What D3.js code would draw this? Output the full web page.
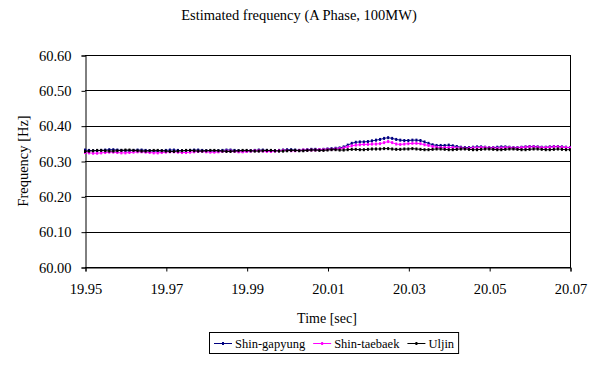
<!DOCTYPE html>
<html>
<head>
<meta charset="utf-8">
<script src="https://cdn.jsdelivr.net/npm/d3@7"></script>
<style>
  html, body { margin: 0; padding: 0; background: #fff; }
  svg { display: block; font-family: "Liberation Serif", "Times New Roman", serif; }
</style>
</head>
<body>
<svg id="chart" width="596" height="368"></svg>
<script>
// Sampling grid of the estimator output (1 ms steps)
const sampleStart = 19.95;
const sampleStep = 0.001;

const xTicks = [19.95, 19.97, 19.99, 20.01, 20.03, 20.05, 20.07];
const yTicks = [60.00, 60.10, 60.20, 60.30, 60.40, 60.50, 60.60];

const seriesNames = ["Shin-gapyung", "Shin-taebaek", "Uljin"];
const seriesColors = ["#000080", "#ff00ff", "#000000"];

const shinGapyung = [
  60.331, 60.330, 60.329, 60.329, 60.330, 60.331, 60.332, 60.332, 60.331, 60.330,
  60.329, 60.329, 60.330, 60.331, 60.331, 60.330, 60.329, 60.328, 60.328, 60.329,
  60.330, 60.331, 60.331, 60.330, 60.329, 60.329, 60.330, 60.331, 60.331, 60.330,
  60.329, 60.328, 60.328, 60.329, 60.330, 60.331, 60.331, 60.330, 60.329, 60.328,
  60.328, 60.329, 60.330, 60.331, 60.331, 60.330, 60.329, 60.329, 60.330, 60.331,
  60.332, 60.332, 60.331, 60.330, 60.331, 60.332, 60.333, 60.333, 60.332, 60.333,
  60.334, 60.335, 60.336, 60.337, 60.340, 60.345, 60.350, 60.353, 60.354, 60.354,
  60.355, 60.357, 60.359, 60.361, 60.364, 60.366, 60.364, 60.361, 60.359, 60.358,
  60.358, 60.359, 60.359, 60.358, 60.354, 60.350, 60.346, 60.344, 60.344, 60.344,
  60.345, 60.343, 60.341, 60.339, 60.338, 60.338, 60.339, 60.340, 60.340, 60.339,
  60.338, 60.338, 60.339, 60.340, 60.340, 60.339, 60.338, 60.338, 60.339, 60.340,
  60.341, 60.341, 60.340, 60.339, 60.339, 60.340, 60.341, 60.341, 60.340, 60.339,
  60.338
];

const shinTaebaek = [
  60.324, 60.323, 60.322, 60.322, 60.323, 60.324, 60.325, 60.325, 60.324, 60.323,
  60.323, 60.324, 60.325, 60.326, 60.326, 60.325, 60.324, 60.323, 60.323, 60.324,
  60.325, 60.326, 60.326, 60.325, 60.324, 60.324, 60.325, 60.326, 60.327, 60.327,
  60.326, 60.325, 60.325, 60.326, 60.327, 60.328, 60.328, 60.327, 60.326, 60.326,
  60.327, 60.328, 60.329, 60.329, 60.328, 60.327, 60.327, 60.328, 60.329, 60.330,
  60.330, 60.329, 60.329, 60.330, 60.331, 60.331, 60.331, 60.331, 60.332, 60.332,
  60.333, 60.333, 60.334, 60.335, 60.337, 60.340, 60.343, 60.345, 60.346, 60.347,
  60.347, 60.348, 60.348, 60.349, 60.352, 60.355, 60.352, 60.348, 60.347, 60.348,
  60.349, 60.350, 60.350, 60.349, 60.346, 60.344, 60.341, 60.339, 60.338, 60.338,
  60.338, 60.338, 60.337, 60.337, 60.336, 60.336, 60.337, 60.337, 60.338, 60.338,
  60.337, 60.337, 60.336, 60.337, 60.338, 60.338, 60.337, 60.337, 60.338, 60.339,
  60.340, 60.340, 60.339, 60.338, 60.338, 60.339, 60.340, 60.340, 60.339, 60.338,
  60.337
];

const uljin = [
  60.327, 60.328, 60.329, 60.330, 60.330, 60.329, 60.328, 60.328, 60.329, 60.330,
  60.331, 60.331, 60.330, 60.329, 60.328, 60.328, 60.329, 60.330, 60.330, 60.329,
  60.328, 60.327, 60.327, 60.328, 60.329, 60.330, 60.330, 60.329, 60.328, 60.328,
  60.329, 60.330, 60.330, 60.329, 60.328, 60.327, 60.327, 60.328, 60.329, 60.330,
  60.330, 60.329, 60.328, 60.328, 60.329, 60.330, 60.330, 60.329, 60.328, 60.328,
  60.329, 60.330, 60.330, 60.329, 60.329, 60.330, 60.331, 60.331, 60.330, 60.330,
  60.331, 60.332, 60.332, 60.331, 60.331, 60.332, 60.333, 60.333, 60.332, 60.332,
  60.333, 60.334, 60.334, 60.334, 60.335, 60.335, 60.334, 60.333, 60.333, 60.334,
  60.334, 60.335, 60.334, 60.333, 60.332, 60.332, 60.333, 60.334, 60.334, 60.333,
  60.332, 60.332, 60.333, 60.334, 60.334, 60.333, 60.332, 60.332, 60.333, 60.334,
  60.334, 60.333, 60.332, 60.332, 60.333, 60.334, 60.334, 60.333, 60.332, 60.332,
  60.333, 60.334, 60.334, 60.333, 60.332, 60.332, 60.333, 60.334, 60.333, 60.332,
  60.332
];

const seriesValues = [shinGapyung, shinTaebaek, uljin];

const svg = d3.select("#chart");
const plot = { left: 85, right: 570, top: 55, bottom: 267 };
const fontMain = 14.5;

const x = d3.scaleLinear().domain([19.95, 20.07]).range([plot.left, plot.right]);
const y = d3.scaleLinear().domain([60.0, 60.6]).range([plot.bottom, plot.top]);

// Title
svg.append("text")
  .attr("x", 299).attr("y", 20)
  .attr("text-anchor", "middle")
  .attr("font-size", fontMain)
  .text("Estimated frequency (A Phase, 100MW)");

// Horizontal gridlines
svg.append("g")
  .selectAll("line")
  .data(yTicks)
  .join("line")
  .attr("x1", plot.left).attr("x2", plot.right)
  .attr("y1", d => Math.round(y(d)) + 0.5).attr("y2", d => Math.round(y(d)) + 0.5)
  .attr("stroke", "#000").attr("stroke-width", 1);

// Y axis
const yAxis = d3.axisLeft(y).tickValues(yTicks).tickFormat(d3.format(".2f")).tickSize(4).tickPadding(10);
const gy = svg.append("g")
  .attr("transform", `translate(${plot.left + 0.5},0.5)`)
  .call(yAxis);
gy.select(".domain").attr("stroke", "#000");
gy.selectAll("text").attr("font-size", fontMain).attr("font-family", "Liberation Serif, serif").attr("fill", "#000");

// X axis
const xAxis = d3.axisBottom(x).tickValues(xTicks).tickFormat(d3.format(".2f")).tickSize(4).tickPadding(12);
const gx = svg.append("g")
  .attr("transform", `translate(0.5,${plot.bottom + 0.5})`)
  .call(xAxis);
gx.select(".domain").attr("stroke", "#000");
gx.selectAll("text").attr("font-size", fontMain).attr("font-family", "Liberation Serif, serif").attr("fill", "#000");

// Right border
svg.append("line")
  .attr("x1", plot.right + 0.5).attr("x2", plot.right + 0.5)
  .attr("y1", plot.top).attr("y2", plot.bottom + 1)
  .attr("stroke", "#000");

// Axis titles
svg.append("text")
  .attr("x", 327).attr("y", 323)
  .attr("text-anchor", "middle")
  .attr("font-size", 14)
  .text("Time [sec]");

svg.append("text")
  .attr("transform", `translate(28,${(plot.top + plot.bottom) / 2}) rotate(-90)`)
  .attr("text-anchor", "middle")
  .attr("font-size", fontMain)
  .text("Frequency [Hz]");

// Series lines with small markers
const line = d3.line()
  .x((d, i) => x(sampleStart + i * sampleStep))
  .y(d => y(d));

seriesValues.forEach((vals, k) => {
  const g = svg.append("g");
  g.append("path")
    .datum(vals)
    .attr("d", line)
    .attr("fill", "none")
    .attr("stroke", seriesColors[k])
    .attr("stroke-width", 1);
  g.selectAll("rect")
    .data(vals)
    .join("rect")
    .attr("x", (d, i) => x(sampleStart + i * sampleStep) - 1)
    .attr("y", d => y(d) - 1.5)
    .attr("width", 2).attr("height", 3)
    .attr("fill", seriesColors[k]);
});

// Legend: items laid out from measured text widths
const legend = svg.append("g");
const legendLeft = 209, legendTop = 332.5, legendH = 21, legendFont = 12.5;
const box = legend.append("rect")
  .attr("x", legendLeft + 0.5).attr("y", legendTop)
  .attr("height", legendH)
  .attr("fill", "#fff").attr("stroke", "#000");

let cursor = legendLeft + 5;
seriesNames.forEach((name, k) => {
  const cy = legendTop + legendH / 2 + 0.5;
  legend.append("line")
    .attr("x1", cursor).attr("x2", cursor + 18)
    .attr("y1", cy).attr("y2", cy)
    .attr("stroke", seriesColors[k]).attr("stroke-width", 1);
  legend.append("rect")
    .attr("x", cursor + 8).attr("y", cy - 1.5)
    .attr("width", 2).attr("height", 3)
    .attr("fill", seriesColors[k]);
  const t = legend.append("text")
    .attr("x", cursor + 21).attr("y", legendTop + 15.5)
    .attr("font-size", legendFont)
    .text(name);
  cursor += 21 + t.node().getComputedTextLength() + (k < seriesNames.length - 1 ? 8 : 4);
});
box.attr("width", cursor - legendLeft);
</script>
</body>
</html>
